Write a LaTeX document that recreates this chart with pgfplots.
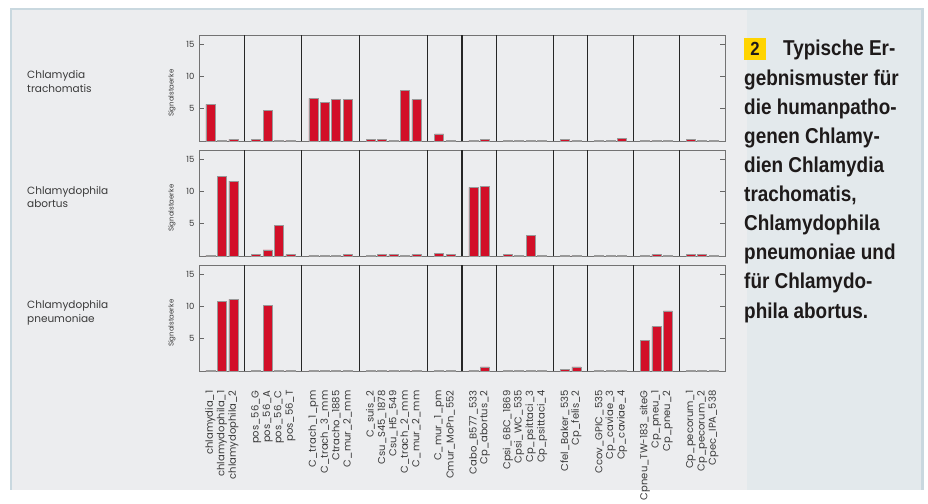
\documentclass[border=0pt]{standalone}
\usepackage{pgfplots}
\pgfplotsset{compat=1.18}
\usepackage{fontspec}
\setmainfont{Poppins}
\newfontfamily\capfont[FakeStretch=0.88]{Liberation Sans}
\definecolor{barred}{HTML}{D20F28}
\definecolor{panelgrey}{HTML}{ECEDEF}
\definecolor{panelblue}{HTML}{E3E9EC}
\definecolor{bordercol}{HTML}{C9D8DF}
\definecolor{badge}{HTML}{FFD400}
\definecolor{txt}{HTML}{1E1A1A}
\definecolor{lbl}{HTML}{3A3A3A}
\pgfplotsset{
 rowaxis/.style={
  scale only axis, width=526pt, height=106pt, anchor=south west,
  xmin=0, xmax=46, ymin=0, ymax=16.4,
  ytick={5,10,15}, ytick pos=both, yticklabel pos=left, tick align=inside,
  major tick length=5pt,
  xtick=\empty,
  extra x ticks={4,9,14,20,23,26,31,34,38,42},
  extra x tick labels={},
  extra x tick style={grid=major, major tick length=0pt, major grid style={draw=black!85, line width=1.1pt}},
  axis line style={draw=black!55, line width=0.7pt},
  ytick style={draw=black!60, line width=0.6pt},
  yticklabel style={font=\fontsize{8.5}{10}\selectfont, text=lbl, xshift=-1pt},
  /pgf/number format/assume math mode=true,
  ylabel={Signalstaerke},
  every axis y label/.style={at={(axis description cs:-0.0513,0.45)}, rotate=90, anchor=center, font=\fontsize{7}{8}\selectfont, text=lbl},
  ybar, bar width=0.79,
 },
 barstyle/.style={fill=barred, draw=black!40, line width=0.5pt},
}
\begin{document}
\begin{tikzpicture}[x=1pt,y=1pt]
\fill[white] (0,0) rectangle (928,490);
\fill[bordercol] (10,0) rectangle (924,482);
\fill[panelgrey] (12,0) rectangle (746.7,480);
\fill[panelblue] (746.7,0) rectangle (921,480);

% row labels
\begin{scope}[every node/.style={anchor=base west, font=\fontsize{10.5}{12}\selectfont, text=lbl, inner sep=0pt}]
\node at (27,411) {Chlamydia};
\node at (27,397.3) {trachomatis};
\node at (27,295.7) {Chlamydophila};
\node at (27,282.3) {abortus};
\node at (27,181.7) {Chlamydophila};
\node at (27,168) {pneumoniae};
\end{scope}

% Row 1: Chlamydia trachomatis
\begin{axis}[rowaxis, at={(199pt,349pt)}]
\addplot[barstyle] coordinates {
(1,5.66) (2,0.1) (3,0.25)
(5,0.2) (6,4.7) (7,0.15) (8,0.15)
(10,6.6) (11,6.0) (12,6.46) (13,6.4)
(15,0.25) (16,0.25) (17,0.1) (18,7.88) (19,6.4)
(21,1.1) (22,0.1)
(24,0.1) (25,0.25)
(27,0.1) (28,0.15) (29,0.15) (30,0.1)
(32,0.25) (33,0.1)
(35,0.1) (36,0.15) (37,0.35)
(39,0.1) (40,0.1) (41,0.1)
(43,0.25) (44,0.15) (45,0.1)
};
\end{axis}

% Row 2: Chlamydophila abortus
\begin{axis}[rowaxis, at={(199pt,234pt)}]
\addplot[barstyle] coordinates {
(1,0.1) (2,12.37) (3,11.6)
(5,0.25) (6,0.95) (7,4.75) (8,0.2)
(10,0.1) (11,0.1) (12,0.1) (13,0.2)
(15,0.15) (16,0.2) (17,0.2) (18,0.1) (19,0.2)
(21,0.4) (22,0.2)
(24,10.6) (25,10.8)
(27,0.25) (28,0.1) (29,3.2) (30,0.15)
(32,0.15) (33,0.1)
(35,0.1) (36,0.15) (37,0.1)
(39,0.1) (40,0.2) (41,0.1)
(43,0.25) (44,0.25) (45,0.15)
};
\end{axis}

% Row 3: Chlamydophila pneumoniae
\begin{axis}[rowaxis, at={(199pt,119pt)},
  xtick={1,2,3,5,6,7,8,10,11,12,13,15,16,17,18,19,21,22,24,25,27,28,29,30,32,33,35,36,37,39,40,41,43,44,45},
  xticklabels={chlamydia\_1,chlamydophila\_1,chlamydophila\_2,
   pos\_56\_G,pos\_56\_A,pos\_56\_C,pos\_56\_T,
   C\_trach\_1\_pm,C\_trach\_3\_mm,Ctracho\_1885,C\_mur\_2\_mm,
   C\_suis\_2,Csu\_S45\_1878,Csu\_H5\_549,C\_trach\_2\_mm,C\_mur\_2\_mm,
   C\_mur\_1\_pm,Cmur\_MoPn\_552,
   Cabo\_B577\_533,Cp\_abortus\_2,
   Cpsi\_6BC\_1869,Cpsi\_WC\_535,Cp\_psittaci\_3,Cp\_psittaci\_4,
   Cfel\_Baker\_535,Cp\_felis\_2,
   Ccov\_GPIC\_535,Cp\_caviae\_3,Cp\_caviae\_4,
   Cpneu\_TW-183\_siteG,Cp\_pneu\_1,Cp\_pneu\_2,
   Cp\_pecorum\_1,Cp\_pecorum\_2,Cpec\_IPA\_538},
  xtick style={draw=none},
  xticklabel style={yshift=-11pt, rotate=90, anchor=east, font=\fontsize{10}{11}\selectfont, text=lbl},
]
\addplot[barstyle] coordinates {
(1,0.1) (2,10.8) (3,11.1)
(5,0.1) (6,10.1) (7,0.1) (8,0.1)
(10,0.1) (11,0.1) (12,0.1) (13,0.1)
(15,0.1) (16,0.1) (17,0.1) (18,0.1) (19,0.1)
(21,0.1) (22,0.1)
(24,0.1) (25,0.65)
(27,0.1) (28,0.1) (29,0.1) (30,0.1)
(32,0.25) (33,0.65)
(35,0.1) (36,0.1) (37,0.1)
(39,4.75) (40,6.87) (41,9.3)
(43,0.1) (44,0.1) (45,0.1)
};
\end{axis}

% caption panel
\fill[badge] (744,430) rectangle (766,452);
\node[font=\capfont\bfseries\fontsize{19}{20}\selectfont, text=txt, inner sep=0pt] at (755,441) {2};
\begin{scope}[every node/.style={anchor=base west, font=\capfont\bfseries\fontsize{21.5}{24}\selectfont, text=txt, inner sep=0pt}]
\node at (783,434) {Typische Er-};
\node at (744,404.9) {gebnismuster für};
\node at (744,375.8) {die humanpatho-};
\node at (744,346.7) {genen Chlamy-};
\node at (744,317.6) {dien Chlamydia};
\node at (744,288.5) {trachomatis,};
\node at (744,259.4) {Chlamydophila};
\node at (744,230.3) {pneumoniae und};
\node at (744,201.2) {für Chlamydo-};
\node at (744,172) {phila abortus.};
\end{scope}
\end{tikzpicture}
\end{document}
